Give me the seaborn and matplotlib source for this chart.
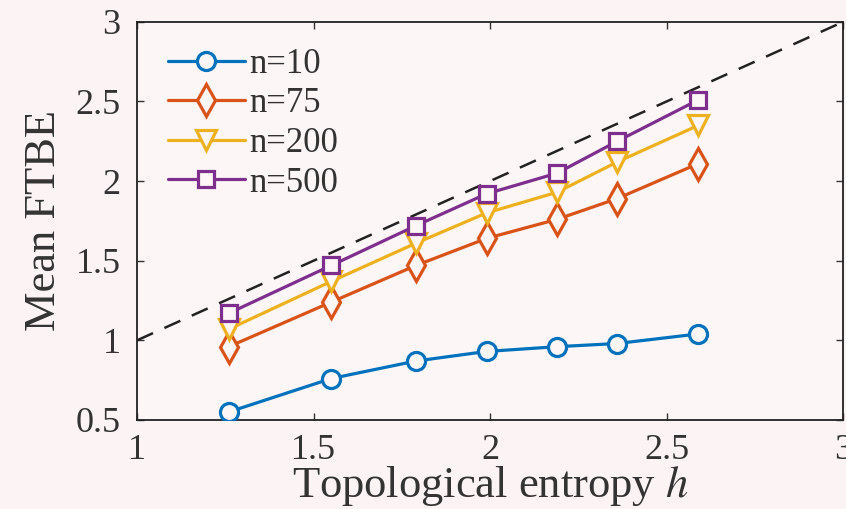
import numpy as np
import matplotlib
matplotlib.use("Agg")
import matplotlib.pyplot as plt
import seaborn as sns

# data
h = [1.26, 1.55, 1.79, 1.99, 2.19, 2.36, 2.59]
ftbe_10 = [0.55, 0.76, 0.87, 0.93, 0.96, 0.98, 1.04]
ftbe_75 = [0.96, 1.24, 1.47, 1.64, 1.76, 1.89, 2.11]
ftbe_200 = [1.07, 1.37, 1.61, 1.80, 1.93, 2.12, 2.35]
ftbe_500 = [1.17, 1.47, 1.72, 1.92, 2.05, 2.25, 2.51]
labels = ["n=10", "n=75", "n=200", "n=500"]
diag = [1, 3]

sns.set_style("ticks")
plt.rcParams["font.family"] = ["Liberation Serif", "DejaVu Serif"]
plt.rcParams["mathtext.fontset"] = "stix"

bg = "#fcf4f4"
fig = plt.figure(figsize=(8.46, 5.09), dpi=100, facecolor=bg)
ax = fig.add_axes([0.162, 0.175, 0.8345, 0.782], facecolor="#fdf6f6")

colors = ["#0072BD", "#D95319", "#EDB120", "#7E2F8E"]
markers = ["o", "d", "v", "s"]
sizes = [13, 16, 15, 11.5]
series = [ftbe_10, ftbe_75, ftbe_200, ftbe_500]

ax.plot(diag, diag, color="#222222", lw=1.8, dashes=(7, 5), zorder=1)
for y, lab, c, m, ms in zip(series, labels, colors, markers, sizes):
    sns.lineplot(x=h, y=y, ax=ax, color=c, marker=m, markersize=ms,
                 markerfacecolor="#fdf6f6", markeredgecolor=c, markeredgewidth=2.3,
                 linewidth=2.3, label=lab, zorder=3)

ax.set_xlim(1, 3)
ax.set_ylim(0.5, 3)
ax.set_xticks([1, 1.5, 2, 2.5, 3])
ax.set_xticklabels(["1", "1.5", "2", "2.5", "3"])
ax.set_yticks([0.5, 1, 1.5, 2, 2.5, 3])
ax.set_yticklabels(["0.5", "1", "1.5", "2", "2.5", "3"])
ax.tick_params(direction="in", length=5, width=1, top=True, right=True,
               labelsize=26, colors="#333333")
ax.tick_params(axis="x", pad=10)
ax.tick_params(axis="y", pad=12)
for s in ax.spines.values():
    s.set_visible(True)
    s.set_linewidth(1.3)
    s.set_color("#222222")

ax.set_xlabel("Topological entropy $h$", fontsize=32, color="#333333", labelpad=-2)
ax.set_ylabel("Mean FTBE", fontsize=32, color="#333333", labelpad=8)

ax.legend(loc="upper left", frameon=False, fontsize=25, handlelength=2.2,
          handletextpad=0.15, labelspacing=0.19, borderpad=0, borderaxespad=0,
          bbox_to_anchor=(0.044, 0.935), labelcolor="#333333")

fig.savefig("out.png", dpi=100, facecolor=bg)
